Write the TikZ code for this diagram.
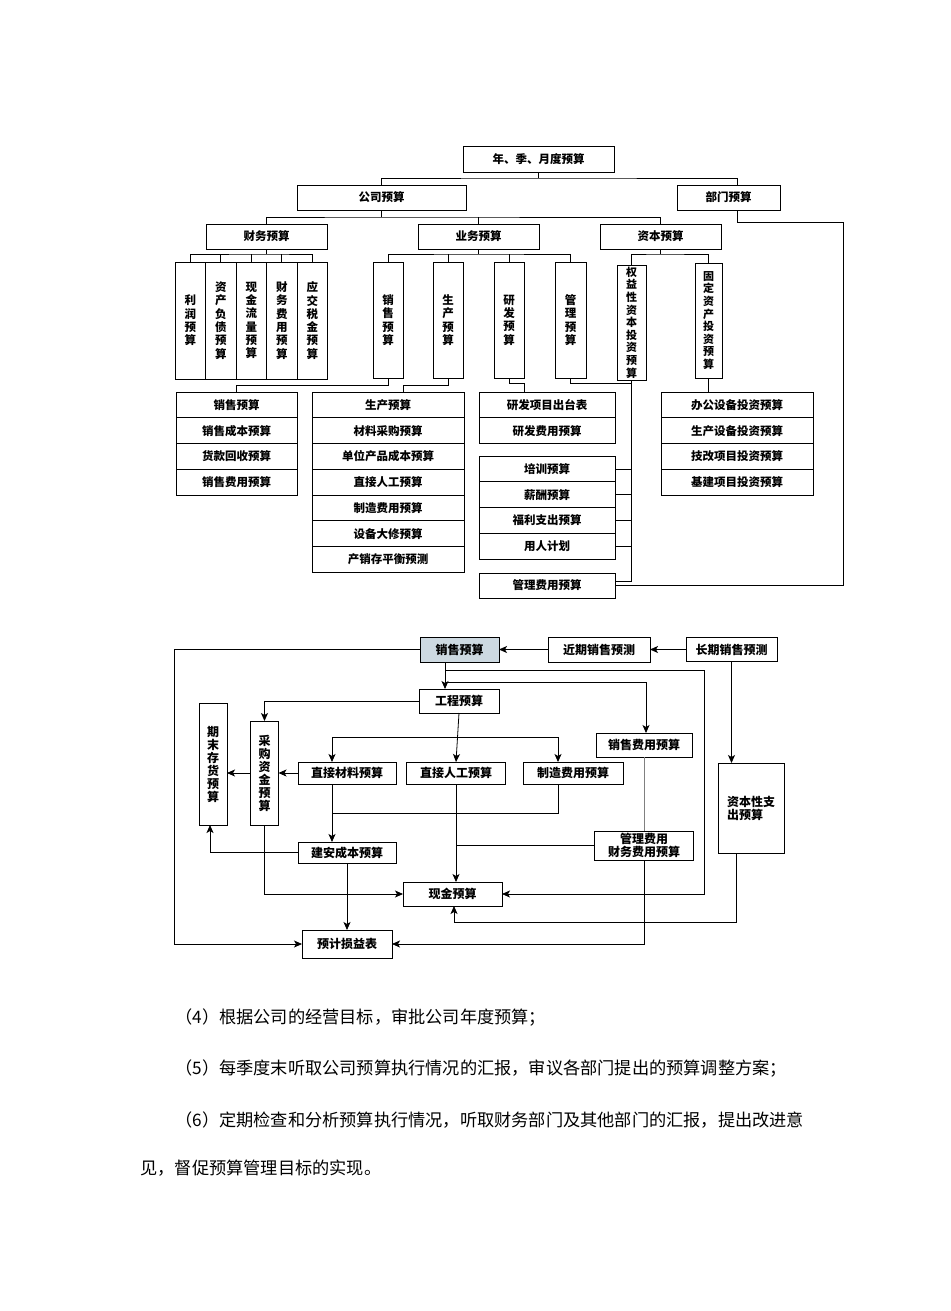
\documentclass[tikz,border=0pt]{standalone}
\usepackage{fontspec}
\setmainfont{Noto Sans CJK SC}
\usepackage{tikz}
\usetikzlibrary{arrows.meta, positioning}

\definecolor{salesfill}{RGB}{205,217,225}
\newcommand{\dgfont}{\bfseries\fontsize{11.5}{13.3}\selectfont}
\newcommand{\dgfontsm}{\bfseries\fontsize{11}{12.6}\selectfont}
\newcommand{\dglow}{\bfseries\fontsize{12}{13}\selectfont}
\newcommand{\bodyfont}{\fontsize{17.2}{20}\selectfont}

\begin{document}
\begin{tikzpicture}[x=1pt, y=-1pt, line width=0.8pt,
  box/.style={draw, line width=0.9pt, inner sep=0pt, outer sep=0pt, font=\dgfont},
  vbox/.style={box, align=center},
  row/.style={box, minimum height=25.75pt},
  lbox/.style={box, font=\dglow},
  arr/.style={-{Stealth[length=8pt, width=7pt, inset=2pt]}},
  para/.style={anchor=west, inner sep=0pt, font=\bodyfont}]
\useasboundingbox (0,0) rectangle (950,1311);
\fill[white] (0,0) rectangle (950,1311);

% upper chart
\node (year) [box, minimum width=151pt, minimum height=26pt] at (538.5,159.5) {年、季、月度预算};
\node (corp) [box, minimum width=169pt, minimum height=25pt] at (381.5,197.5) {公司预算};
\node (dept) [box, minimum width=103pt, minimum height=25pt] at (728.5,197.5) {部门预算};
\node (fin) [box, minimum width=121pt, minimum height=25pt] at (266.5,236.5) {财务预算};
\node (biz) [box, minimum width=121pt, minimum height=25pt] at (478.5,236.5) {业务预算};
\node (cap) [box, minimum width=121pt, minimum height=25pt] at (660.5,236.5) {资本预算};

\node (f1) [vbox, minimum width=30.5pt, minimum height=117pt] at (190.25,320.5) {利\\润\\预\\算};
\node (f2) [vbox, minimum width=30.5pt, minimum height=117pt] at (220.75,320.5) {资\\产\\负\\债\\预\\算};
\node (f3) [vbox, minimum width=30.5pt, minimum height=117pt] at (251.25,320.5) {现\\金\\流\\量\\预\\算};
\node (f4) [vbox, minimum width=30.5pt, minimum height=117pt] at (281.75,320.5) {财\\务\\费\\用\\预\\算};
\node (f5) [vbox, minimum width=30.5pt, minimum height=117pt] at (312.25,320.5) {应\\交\\税\\金\\预\\算};

\node (b1) [vbox, minimum width=30pt, minimum height=116pt] at (388,320) {销\\售\\预\\算};
\node (b2) [vbox, minimum width=30pt, minimum height=116pt] at (448,320) {生\\产\\预\\算};
\node (b3) [vbox, minimum width=30pt, minimum height=116pt] at (509,320) {研\\发\\预\\算};
\node (b4) [vbox, minimum width=31pt, minimum height=116pt] at (570.5,320) {管\\理\\预\\算};

\node (c1) [vbox, font=\dgfontsm, minimum width=29pt, minimum height=115pt] at (631.5,322.5) {权\\益\\性\\资\\本\\投\\资\\预\\算};
\node (c2) [vbox, font=\dgfontsm, minimum width=27pt, minimum height=115pt] at (708.5,320.5) {固\\定\\资\\产\\投\\资\\预\\算};

\node (s1) [row, minimum width=121pt] at (236.5,405) {销售预算};
\node (s2) [row, minimum width=121pt, below=0pt of s1] {销售成本预算};
\node (s3) [row, minimum width=121pt, below=0pt of s2] {货款回收预算};
\node (s4) [row, minimum width=121pt, below=0pt of s3] {销售费用预算};

\node (p1) [row, minimum width=152pt] at (388,405) {生产预算};
\node (p2) [row, minimum width=152pt, below=0pt of p1] {材料采购预算};
\node (p3) [row, minimum width=152pt, below=0pt of p2] {单位产品成本预算};
\node (p4) [row, minimum width=152pt, below=0pt of p3] {直接人工预算};
\node (p5) [row, minimum width=152pt, below=0pt of p4] {制造费用预算};
\node (p6) [row, minimum width=152pt, below=0pt of p5] {设备大修预算};
\node (p7) [row, minimum width=152pt, below=0pt of p6] {产销存平衡预测};

\node (r1) [row, minimum width=136pt] at (547,405) {研发项目出台表};
\node (r2) [row, minimum width=136pt, below=0pt of r1] {研发费用预算};

\node (m1) [row, minimum width=136pt] at (547,469) {培训预算};
\node (m2) [row, minimum width=136pt, below=0pt of m1] {薪酬预算};
\node (m3) [row, minimum width=136pt, below=0pt of m2] {福利支出预算};
\node (m4) [row, minimum width=136pt, below=0pt of m3] {用人计划};
\node (m5) [row, minimum width=136pt, minimum height=25pt] at (547,585.5) {管理费用预算};

\node (k1) [row, minimum width=152pt] at (737,405) {办公设备投资预算};
\node (k2) [row, minimum width=152pt, below=0pt of k1] {生产设备投资预算};
\node (k3) [row, minimum width=152pt, below=0pt of k2] {技改项目投资预算};
\node (k4) [row, minimum width=152pt, below=0pt of k3] {基建项目投资预算};

\coordinate (jy) at (538.5,178);
\draw (year.south) -- (jy);
\draw (corp.north) |- (jy) -| ([xshift=8.5pt]dept.north);
\coordinate (jco) at (381.5,217);
\draw (corp.south) -- (jco);
\draw (fin.north) |- (jco) -| (cap.north);
\draw (biz.north) -- (biz.north |- jco);

\coordinate (jf) at (266.5,254);
\draw (fin.south) -- (jf);
\draw (f1.north) |- (jf) -| (f5.north);
\foreach \n in {f2,f3,f4} \draw (\n.north) -- (\n.north |- jf);
\coordinate (jb) at (478.5,254);
\draw (biz.south) -- (jb);
\draw (b1.north) |- (jb) -| (b4.north);
\foreach \n in {b2,b3} \draw (\n.north) -- (\n.north |- jb);
\coordinate (jk) at (660.5,254);
\draw (cap.south) -- (jk);
\draw (c1.north) |- (jk) -| (c2.north);

\draw (b1.south) -- ++(0,7) -| (s1.north);
\draw (b2.south) -- ++(0,7) -| ([xshift=15pt]p1.north);
\draw (b3.south) -- ++(0,5) -| ([xshift=-23pt]r1.north);
\coordinate (jm) at (631.5,383);
\draw (b4.south) |- (jm);
\draw (c1.south) -- (jm);
\draw (jm) |- ([yshift=4.5pt]m5.east);
\foreach \n in {m1,m2,m3,m4} \draw (\n.east) -- (\n.east -| jm);
\draw (c2.south) -- (c2.south |- k1.north);
\coordinate (jd) at (843,222);
\draw ([xshift=8.5pt]dept.south) |- (jd) |- (m5.east);

% lower chart
\node (sal) [lbox, fill=salesfill, minimum width=79pt, minimum height=25pt] at (459.5,649.5) {销售预算};
\node (near) [lbox, minimum width=102pt, minimum height=25pt] at (599,649.5) {近期销售预测};
\node (longt) [lbox, minimum width=91pt, minimum height=24pt] at (731.5,649.5) {长期销售预测};
\node (eng) [lbox, minimum width=80pt, minimum height=24pt] at (459,701) {工程预算};
\node (sexp) [lbox, minimum width=96pt, minimum height=24pt] at (644,745) {销售费用预算};
\node (inv) [vbox, font=\dglow, minimum width=28pt, minimum height=122pt] at (213,764) {期\\末\\存\\货\\预\\算};
\node (pur) [vbox, font=\dglow, minimum width=28pt, minimum height=104pt] at (264.5,773) {采\\购\\资\\金\\预\\算};
\node (dm) [lbox, minimum width=98pt, minimum height=22pt] at (347,773) {直接材料预算};
\node (dl) [lbox, minimum width=99pt, minimum height=22pt] at (456,773) {直接人工预算};
\node (moh) [lbox, minimum width=100pt, minimum height=22pt] at (573,773) {制造费用预算};
\node (capx) [lbox, align=left, minimum width=66pt, minimum height=90pt] at (751,808) {资本性支\\出预算};
\node (mfe) [lbox, align=center, minimum width=99pt, minimum height=29pt] at (644,845.5) {管理费用\\财务费用预算};
\node (cons) [lbox, minimum width=98pt, minimum height=21pt] at (347,852.5) {建安成本预算};
\node (cash) [lbox, minimum width=99pt, minimum height=24pt] at (452.5,894) {现金预算};
\node (pl) [lbox, minimum width=90pt, minimum height=28pt] at (347,944) {预计损益表};

\draw[arr] (near.west) -- (sal.east);
\draw[arr] (longt.west) -- (near.east);
\draw[arr] (longt.south) -- (longt.south |- capx.north);
\draw[arr] ([xshift=-14.5pt]sal.south) -- ([xshift=-14.5pt]sal.south |- eng.north);
\coordinate (kc) at (704,670);
\draw[arr] ([xshift=-14.5pt]sal.south) |- (kc) |- (cash.east);
\coordinate (ks) at (646,682);
\draw[arr] ([xshift=-14.5pt]sal.south) |- (ks) -- (ks |- sexp.north);
\draw[arr] (eng.west) -| (pur.north);
\draw[arr] (eng.south) -- (dl.north);
\coordinate (je) at (456,737);
\draw[arr] (je) -| ([xshift=-15pt]dm.north);
\draw[arr] (je) -| ([xshift=-15pt]moh.north);
\draw[arr] (dm.west) -- (pur.east);
\draw[arr] (pur.west) -- (pur.west -| inv.east);
\coordinate (jn) at (332,813);
\draw ([xshift=-15pt]moh.south) |- (jn);
\draw[arr] ([xshift=-15pt]dm.south) -- ([xshift=-15pt]cons.north);
\draw[arr] (dl.south) -- (dl.south |- cash.north);
\draw (mfe.west) -- (mfe.west -| dl.south);
\draw[gray] (sexp.south) -- (mfe.north);
\draw[arr] (mfe.south) |- (pl.east);
\draw[arr] (cons.west) -| ([xshift=-3pt]inv.south);
\draw[arr] (cons.south) -- (pl.north);
\draw[arr] (pur.south) |- (cash.west);
\coordinate (jl) at (174,944);
\draw[arr] (sal.west) -| (jl) -- (pl.west);
\coordinate (jx) at (454,922);
\draw[arr] ([xshift=-15pt]capx.south) |- (jx) -- (jx |- cash.south);

% text below
\node (t4) [para] at (175,1018) {（4）根据公司的经营目标，审批公司年度预算；};
\node (t5) [para] at (175,1069) {（5）每季度末听取公司预算执行情况的汇报，审议各部门提出的预算调整方案；};
\node (t6) [para] at (175,1120) {（6）定期检查和分析预算执行情况，听取财务部门及其他部门的汇报，提出改进意};
\node (t7) [para] at (140,1168) {见，督促预算管理目标的实现。};
\end{tikzpicture}
\end{document}
